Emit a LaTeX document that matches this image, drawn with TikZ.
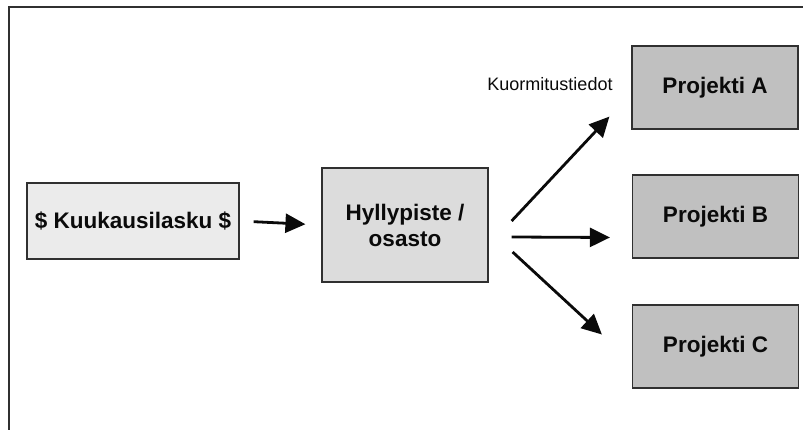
\documentclass[tikz,border=0pt]{standalone}
\usepackage{fontspec}
\setmainfont{Liberation Sans}
\usetikzlibrary{arrows.meta,calc}
\definecolor{boxline}{HTML}{303030}
\definecolor{inkcol}{HTML}{0A0A0A}
\definecolor{fillk}{HTML}{EBEBEB}
\definecolor{fillh}{HTML}{DCDCDC}
\definecolor{fillp}{HTML}{C0C0C0}
\tikzset{
  box/.style={draw=boxline, line width=1.2pt, inner sep=0pt, align=center,
    text=inkcol, font=\fontsize{22.5}{26}\selectfont\bfseries},
  projbox/.style={box, fill=fillp, minimum width=166pt, minimum height=83pt},
  arr/.style={line width=2.8pt, draw=inkcol,
    -{Triangle[length=20pt,width=19pt]}},
  frame/.style={line width=2pt, draw=boxline}
}
\begin{document}
\begin{tikzpicture}[x=1pt,y=-1pt]
  \useasboundingbox (0,0) rectangle (803,430);
  % outer frame, open at the right and at the bottom
  \draw[frame] (9,431) -- (9,7) -- (804,7);

  % boxes
  \node[box, fill=fillk, minimum width=212pt, minimum height=76pt] (k) at (133,221) {\$ Kuukausilasku \$};
  \node[box, fill=fillh, minimum width=166pt, minimum height=114pt] (h) at (405,225) {Hyllypiste /\\osasto};
  \node[projbox] (pa) at (715,87.5) {Projekti A};
  \node[projbox] (pb) at (715.5,216.5) {Projekti B};
  \node[projbox] (pc) at (715.5,346.5) {Projekti C};

  % label above the upper branch
  \node[text=inkcol, font=\fontsize{18}{20}\selectfont, inner sep=0pt] (lbl) at (550,84) {Kuormitustiedot};

  % connector end points
  \coordinate (sa) at ($(h.east)+(23,-4)$);
  \coordinate (sb) at ($(h.east)+(23,12)$);
  \coordinate (sc) at ($(h.east)+(24,27)$);
  \coordinate (ta) at ($(pa.south west)+(-22,-13)$);
  \coordinate (tb) at ($(pb.west)+(-22,21)$);
  \coordinate (tc) at ($(pc.west)+(-30,-12)$);

  % connectors
  \draw[arr, shorten <=14pt, shorten >=16pt] (k.east) -- (h.west);
  \draw[arr] (sa) -- (ta);
  \draw[arr] (sb) -- (tb);
  \draw[arr] (sc) -- (tc);
\end{tikzpicture}
\end{document}
